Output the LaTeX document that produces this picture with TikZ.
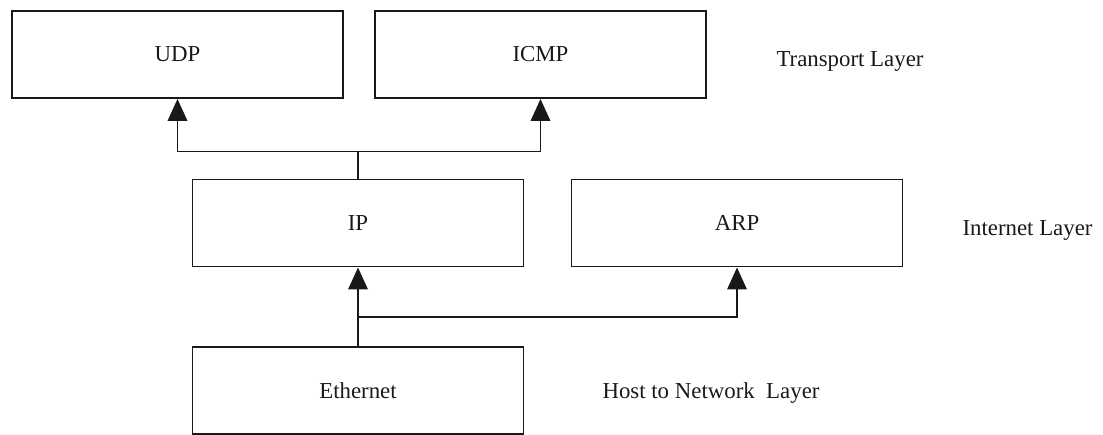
\documentclass[tikz,border=0pt]{standalone}
\usepackage{fontspec}
\setmainfont{Liberation Serif}
\usetikzlibrary{arrows.meta,calc}
\definecolor{ink}{RGB}{25,25,25}
\tikzset{
	flow/.style={-{Triangle[length=4.4mm,width=3.9mm]},line width=1.1pt,draw=ink},
	link/.style={line width=1.1pt,draw=ink},
	proto/.style={draw=ink,line width=1.1pt,align=center,inner sep=0pt,
		minimum width=6.62cm,minimum height=1.74cm,text=ink},
	layername/.style={text=ink,inner sep=0pt,anchor=center},
}
\begin{document}
\begin{tikzpicture}[font=\fontsize{13}{15}\selectfont]
		\useasboundingbox (0,0) rectangle (22.06,-8.7);
		
		\node[proto] (udp) at (3.55,-1.09) {UDP};
		\node[proto] (icmp) at (10.81,-1.09) {ICMP};
		\node[layername] (transport) at (17.0,-1.22) {Transport Layer};
		
		\node[proto] (ip) at (7.16,-4.46) {IP};
		\node[proto] (arp) at (14.74,-4.46) {ARP};
		\node[layername] (internet) at (20.55,-4.60) {Internet Layer};
		
		\node[proto] (eth) at (7.16,-7.81) {Ethernet};
		\node[layername] (hostnet) at (14.22,-7.86) {Host to Network\ \ Layer};
		
		\coordinate (upsplit) at ($(ip.north)+(0,0.54)$);
		\coordinate (downsplit) at ($(eth.north)+(0,0.58)$);
		
		\draw[link] (ip.north) -- (upsplit);
		\draw[flow] (upsplit) -| (udp.south);
		\draw[flow] (upsplit) -| (icmp.south);
		
		\draw[flow] (eth.north) -- (ip.south);
		\draw[flow] (downsplit) -| (arp.south);
		
	\end{tikzpicture}
\end{document}
